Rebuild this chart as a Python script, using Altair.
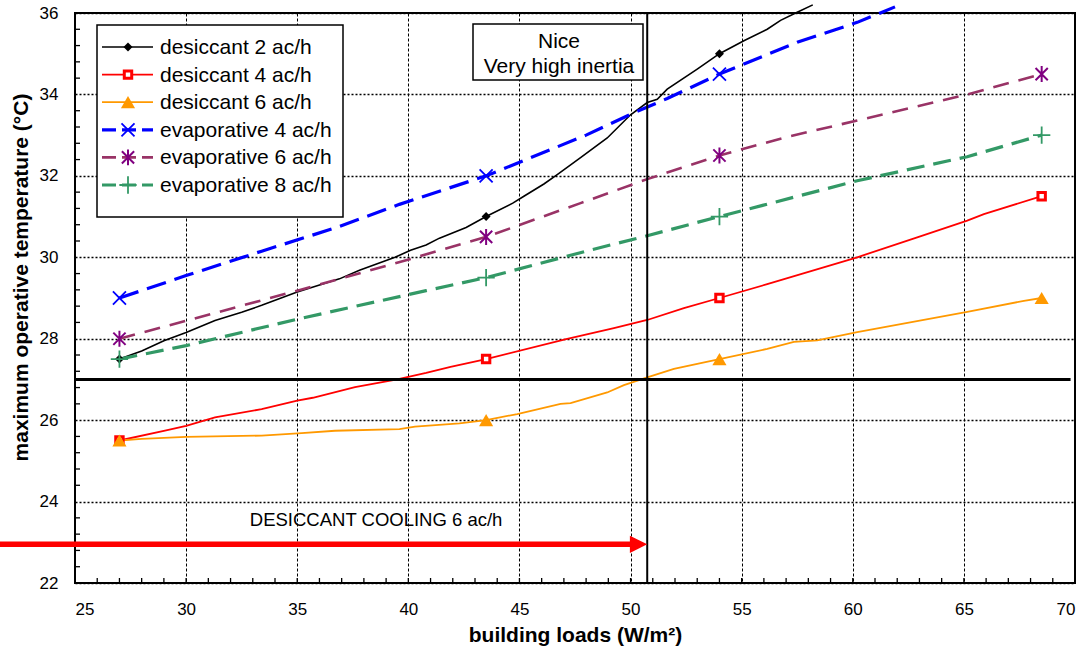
import altair as alt
import pandas as pd

FONT = "Liberation Sans"

# ---------------- data ----------------
series_names = ["desiccant 2 ac/h", "desiccant 4 ac/h", "desiccant 6 ac/h",
                "evaporative 4 ac/h", "evaporative 6 ac/h", "evaporative 8 ac/h"]

des2_x = [27.0, 28.0, 29.0, 30.0, 31.3, 32.5, 33.4, 35.0, 36.9, 37.8, 39.4, 40.1, 40.8, 41.4,
          42.6, 43.5, 44.7, 45.2, 46.1, 46.7, 47.75, 48.95, 50.0, 50.75, 51.2, 51.65, 53.0,
          54.0, 55.1, 56.15, 56.75, 57.5, 58.2]
des2_y = [27.5, 27.7, 27.95, 28.15, 28.45, 28.65, 28.82, 29.15, 29.47, 29.68, 30.0, 30.17, 30.3,
          30.47, 30.73, 31.0, 31.33, 31.5, 31.8, 32.03, 32.45, 32.93, 33.5, 33.8, 33.88, 34.13,
          34.62, 35.0, 35.32, 35.6, 35.82, 36.02, 36.2]

des4_x = [27.0, 29.05, 30.0, 31.3, 33.4, 35.0, 35.7, 37.6, 39.5, 40.8, 41.9, 43.5, 47.1, 49.25,
          50.75, 52.4, 54.0, 56.15, 60.2, 62.9, 65.15, 65.9, 68.5]
des4_y = [25.5, 25.74, 25.86, 26.07, 26.27, 26.48, 26.55, 26.81, 27.0, 27.16, 27.31, 27.5, 27.99,
          28.26, 28.46, 28.75, 29.0, 29.34, 30.0, 30.49, 30.9, 31.06, 31.5]

des6_x = [27.0, 28.0, 30.0, 33.4, 35.2, 36.7, 39.6, 40.3, 42.3, 43.5, 44.9, 46.85, 47.3, 48.95,
          49.7, 50.75, 51.95, 54.0, 56.15, 57.35, 58.4, 60.2, 65.15, 67.7, 68.5]
des6_y = [25.5, 25.54, 25.59, 25.62, 25.68, 25.74, 25.78, 25.84, 25.92, 26.0, 26.15, 26.4, 26.42,
          26.68, 26.86, 27.05, 27.26, 27.5, 27.75, 27.92, 27.96, 28.16, 28.66, 28.93, 29.0]

evap4_x = [27.0, 30.0, 33.4, 36.7, 39.6, 43.5, 48.0, 50.15, 51.65, 54.0, 57.5, 60.2, 61.9]
evap4_y = [29.0, 29.55, 30.15, 30.72, 31.3, 32.0, 33.0, 33.55, 33.9, 34.5, 35.28, 35.77, 36.15]

evap6_x = [27.0, 30.0, 35.0, 40.1, 43.5, 47.75, 50.75, 54.0, 57.0, 60.2, 65.15, 68.5]
evap6_y = [28.0, 28.44, 29.18, 29.96, 30.5, 31.33, 31.92, 32.5, 32.95, 33.36, 34.0, 34.5]

evap8_x = [27.0, 30.0, 35.0, 40.8, 43.5, 48.0, 50.75, 54.0, 60.2, 65.15, 68.5]
evap8_y = [27.5, 27.83, 28.48, 29.18, 29.5, 30.15, 30.53, 31.0, 31.88, 32.47, 33.0]

# markers
des2_mx = [27.0, 43.5, 54.0]
des2_my = [27.5, 31.0, 35.0]
des4_mx = [27.0, 43.5, 54.0, 68.5]
des4_my = [25.5, 27.5, 29.0, 31.5]
des6_mx = [27.0, 43.5, 54.0, 68.5]
des6_my = [25.5, 26.0, 27.5, 29.0]
evap4_mx = [27.0, 43.5, 54.0]
evap4_my = [29.0, 32.0, 34.5]
evap6_mx = [27.0, 43.5, 54.0, 68.5]
evap6_my = [28.0, 30.5, 32.5, 34.5]
evap8_mx = [27.0, 43.5, 54.0, 68.5]
evap8_my = [27.5, 29.5, 31.0, 33.0]

x_ticks = [25, 30, 35, 40, 45, 50, 55, 60, 65, 70]
y_ticks = [22, 24, 26, 28, 30, 32, 34, 36]
x_minor = [v for v in range(26, 70)]
y_minor = [22.4, 22.8, 23.2, 23.6, 24.4, 24.8, 25.2, 25.6, 26.4, 26.8, 27.2, 27.6,
           28.4, 28.8, 29.2, 29.6, 30.4, 30.8, 31.2, 31.6, 32.4, 32.8, 33.2, 33.6,
           34.4, 34.8, 35.2, 35.6]

# annotations
limit_temp = 27.0
limit_temp_x = [25.0, 69.8]
limit_load = 50.75
arrow_y = 22.95
arrow_x = [21.6, 50.3]
arrow_head_x = 50.36
arrow_label = "DESICCANT COOLING 6 ac/h"
arrow_label_pos = (38.55, 23.55)
box_lines = ["Nice", "Very high inertia"]

# ---------------- styling ----------------
W, H = 1000, 570
xscale = alt.Scale(domain=[25, 70], nice=False, zero=False)
yscale = alt.Scale(domain=[22, 36], nice=False, zero=False)

xaxis = alt.Axis(values=x_ticks, title="building loads (W/m²)", labelFontSize=17,
                 labelPadding=18, ticks=False, tickSize=0, domain=False,
                 grid=True, gridColor="#000000", gridDash=[3, 2], gridWidth=1,
                 titleFontSize=21, titleFontWeight="bold", titlePadding=7,
                 labelFont=FONT, titleFont=FONT, labelColor="#000", titleColor="#000")
yaxis = alt.Axis(values=y_ticks, title="maximum operative temperature (°C)", labelFontSize=17,
                 labelPadding=17, ticks=False, tickSize=0, domain=False,
                 grid=True, gridColor="#000000", gridDash=[2, 2], gridWidth=1.3,
                 titleFontSize=21, titleFontWeight="bold", titleX=-44, titleY=264,
                 labelFont=FONT, titleFont=FONT, labelColor="#000", titleColor="#000")


def X(f="x"):
    return alt.X(f, type="quantitative", scale=xscale, axis=xaxis)


def Y(f="y"):
    return alt.Y(f, type="quantitative", scale=yscale, axis=yaxis)


P_X = "M-1,-1L1,1M-1,1L1,-1"
P_AST = "M-1,-1L1,1M-1,1L1,-1M0,-1.3L0,1.3"
P_PLUS = "M-1,0L1,0M0,-1L0,1"

styles = [
    dict(lx=des2_x, ly=des2_y, mx=des2_mx, my=des2_my, color="#000000", width=1.6, dash=None,
         shape="diamond", filled=True, mcolor="#000000", msize=80, msw=1),
    dict(lx=des4_x, ly=des4_y, mx=des4_mx, my=des4_my, color="#FF0000", width=1.8, dash=None,
         shape="square", filled=False, mcolor="#FF0000", msize=55, msw=3),
    dict(lx=des6_x, ly=des6_y, mx=des6_mx, my=des6_my, color="#FF9900", width=1.8, dash=None,
         shape="triangle-up", filled=True, mcolor="#FF9900", msize=200, msw=1),
    dict(lx=evap4_x, ly=evap4_y, mx=evap4_mx, my=evap4_my, color="#0000FF", width=3.2, dash=[20, 9],
         shape=P_X, filled=False, mcolor="#0000FF", msize=170, msw=1.8),
    dict(lx=evap6_x, ly=evap6_y, mx=evap6_mx, my=evap6_my, color="#993366", width=2.6, dash=[16, 10],
         shape=P_AST, filled=False, mcolor="#800080", msize=150, msw=2),
    dict(lx=evap8_x, ly=evap8_y, mx=evap8_mx, my=evap8_my, color="#339966", width=3.2, dash=[18, 9],
         shape=P_PLUS, filled=False, mcolor="#339966", msize=300, msw=1.8),
]


def marker(st):
    if st["filled"]:
        return dict(shape=st["shape"], filled=True, fill=st["mcolor"], color=st["mcolor"],
                    size=st["msize"], opacity=1, strokeWidth=st["msw"])
    if st["shape"] == "square":
        return dict(shape="square", filled=True, fill="#FFFFFF", stroke=st["mcolor"],
                    size=st["msize"], opacity=1, strokeWidth=st["msw"])
    return dict(shape=st["shape"], filled=False, stroke=st["mcolor"], color=st["mcolor"],
                size=st["msize"], opacity=1, strokeWidth=st["msw"])


layers = []

# minor ticks (inside the plot, along the left and bottom edges)
layers.append(alt.Chart(pd.DataFrame({"x": x_minor})).mark_rule(color="#000", strokeWidth=1.3).encode(
    x=X(), y=alt.value(H - 5), y2=alt.value(H)))
layers.append(alt.Chart(pd.DataFrame({"y": y_minor})).mark_rule(color="#000", strokeWidth=1.3).encode(
    y=Y(), x=alt.value(0), x2=alt.value(5)))

# series lines + markers
for name, st in zip(series_names, styles):
    df = pd.DataFrame({"x": st["lx"], "y": st["ly"]})
    lk = dict(color=st["color"], strokeWidth=st["width"], clip=False)
    if st["dash"]:
        lk["strokeDash"] = st["dash"]
    layers.append(alt.Chart(df).mark_line(**lk).encode(x=X(), y=Y(), order="x:Q"))
for name, st in zip(series_names, styles):
    dm = pd.DataFrame({"x": st["mx"], "y": st["my"]})
    layers.append(alt.Chart(dm).mark_point(clip=False, **marker(st)).encode(x=X(), y=Y()))

# threshold lines
layers.append(alt.Chart(pd.DataFrame({"x": [limit_temp_x[0]], "x2": [limit_temp_x[1]], "y": [limit_temp]}))
              .mark_rule(color="#000", strokeWidth=3).encode(x=X(), x2="x2", y=Y()))
layers.append(alt.Chart(pd.DataFrame({"x": [limit_load], "y": [22.0], "y2": [36.0]}))
              .mark_rule(color="#000", strokeWidth=2).encode(x=X(), y=Y(), y2="y2"))

# red arrow
layers.append(alt.Chart(pd.DataFrame({"x": [arrow_x[0]], "x2": [arrow_x[1]], "y": [arrow_y]}))
              .mark_rule(color="#FF0000", strokeWidth=5.5, clip=False).encode(x=X(), x2="x2", y=Y()))
layers.append(alt.Chart(pd.DataFrame({"x": [arrow_head_x], "y": [arrow_y]}))
              .mark_point(shape="M-1,-1L1,0L-1,1Z", filled=True, fill="#FF0000", color="#FF0000",
                          size=300, opacity=1).encode(x=X(), y=Y()))
layers.append(alt.Chart(pd.DataFrame({"x": [arrow_label_pos[0]], "y": [arrow_label_pos[1]], "t": [arrow_label]}))
              .mark_text(font=FONT, fontSize=18.5, color="#000", align="center", baseline="middle")
              .encode(x=X(), y=Y(), text="t:N"))

# "Nice / Very high inertia" box
one = pd.DataFrame({"k": [0]})
layers.append(alt.Chart(one).mark_rect(fill="#FFFFFF", stroke="#000", strokeWidth=1.5).encode(
    x=alt.value(398), x2=alt.value(568), y=alt.value(11), y2=alt.value(67)))
for i, line in enumerate(box_lines):
    layers.append(alt.Chart(pd.DataFrame({"t": [line]})).mark_text(
        font=FONT, fontSize=21, color="#000", align="center", baseline="middle").encode(
        x=alt.value(484), y=alt.value(29 + 25 * i), text="t:N"))

# legend
layers.append(alt.Chart(one).mark_rect(fill="#FFFFFF", stroke="#000", strokeWidth=1.5).encode(
    x=alt.value(22), x2=alt.value(268), y=alt.value(12), y2=alt.value(204)))
for i, (name, st) in enumerate(zip(series_names, styles)):
    py = 34 + 27.6 * i
    rk = dict(color=st["color"], strokeWidth=st["width"])
    if st["dash"]:
        rk["strokeDash"] = [14, 6]
    layers.append(alt.Chart(one).mark_rule(**rk).encode(
        x=alt.value(27), x2=alt.value(78), y=alt.value(py)))
    layers.append(alt.Chart(one).mark_point(**marker(st)).encode(
        x=alt.value(53), y=alt.value(py)))
    layers.append(alt.Chart(pd.DataFrame({"t": [name]})).mark_text(
        font=FONT, fontSize=21, color="#000", align="left", baseline="middle").encode(
        x=alt.value(85), y=alt.value(py + 1), text="t:N"))

chart = alt.layer(*layers).properties(
    width=W, height=H,
    autosize=alt.AutoSizeParams(type="none"),
    padding={"left": 75, "top": 13, "right": 16, "bottom": 76},
    background="#FFFFFF",
).configure_view(stroke="#000000", strokeWidth=2)

chart.save("out.html", embed_options={"renderer": "svg", "actions": False})
